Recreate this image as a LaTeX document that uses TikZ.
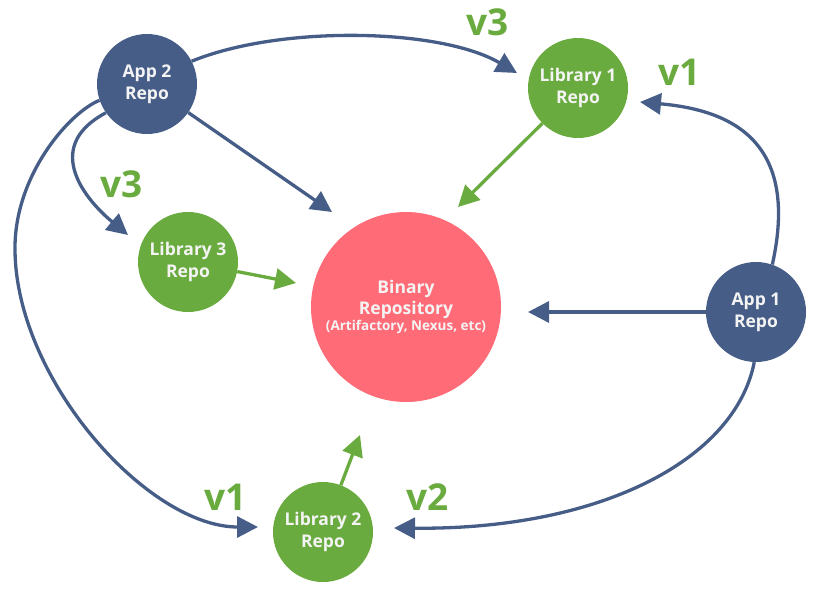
\documentclass[tikz,border=0pt]{standalone}
\usepackage{fontspec}
\setmainfont{Open Sans}
\usetikzlibrary{arrows.meta}
\definecolor{bluec}{HTML}{465E87}
\definecolor{greenc}{HTML}{6AAB3F}
\definecolor{redc}{HTML}{FF6B77}
\definecolor{txtc}{HTML}{F4F4F4}
\begin{document}
\begin{tikzpicture}[x=1pt,y=-1pt,
  repo/.style={circle,minimum size=100pt,inner sep=0pt,text=txtc,font=\bfseries\fontsize{17.5}{22}\selectfont,align=center},
  apprepo/.style={repo,fill=bluec},
  librepo/.style={repo,fill=greenc},
  binrepo/.style={circle,minimum size=190pt,inner sep=0pt,fill=redc,text=txtc,align=center,font=\bfseries\fontsize{17.5}{21}\selectfont},
  conn/.style={line width=3.3pt,-{Triangle[length=21pt,width=21pt]}},
  bconn/.style={conn,draw=bluec},
  gconn/.style={conn,draw=greenc},
  ver/.style={text=greenc,font=\bfseries\fontsize{37}{37}\selectfont,anchor=base,inner sep=0pt}]
\useasboundingbox (0,0) rectangle (817,595);
\node[apprepo] (app2) at (147,84) {App 2\\Repo};
\node[librepo] (lib1) at (578,88) {Library 1\\Repo};
\node[librepo] (lib3) at (188,262) {Library 3\\Repo};
\node[binrepo] (bin) at (406,307) {Binary\\Repository\\[-5pt]{\fontsize{13.5}{16}\selectfont (Artifactory, Nexus, etc)}};
\node[apprepo] (app1) at (756,312) {App 1\\Repo};
\node[librepo] (lib2) at (323,532) {Library 2\\Repo};
% tips
\coordinate (tA) at (517,73);
\coordinate (tB) at (332,212);
\coordinate (tC) at (128,235);
\coordinate (tD) at (258,527);
\coordinate (tE) at (458,207);
\coordinate (tF) at (296,283);
\coordinate (tG) at (360,435);
\coordinate (tH) at (528,312);
\coordinate (tI) at (640,102);
\coordinate (tJ) at (394,528);
\coordinate (lm) at (15,250);
% blue
\draw[bconn] (app2.27) .. controls (280,25) and (440,28) .. (tA);
\draw[bconn] (app2) -- (tB);
\draw[bconn] (app2.215) .. controls (45,145) and (80,195) .. (tC);
\draw[bconn] (app2.199) .. controls (70,112) and (14,175) .. (lm) .. controls (16,380) and (148,527) .. (tD);
\draw[bconn] (app1) -- (tH);
\draw[bconn] (app1.71) .. controls (800,140) and (730,110) .. (tI);
\draw[bconn] (app1.268) .. controls (735,460) and (600,530) .. (tJ);
% green
\draw[gconn] (lib1) -- (tE);
\draw[gconn] (lib3) -- (tF);
\draw[gconn] (lib2) -- (tG);
% labels
\node[ver] (v3a) at (488,35) {v3};
\node[ver] (v1a) at (680,85) {v1};
\node[ver] (v3b) at (122,197) {v3};
\node[ver] (v1b) at (226,510) {v1};
\node[ver] (v2) at (428,510) {v2};
\end{tikzpicture}
\end{document}
